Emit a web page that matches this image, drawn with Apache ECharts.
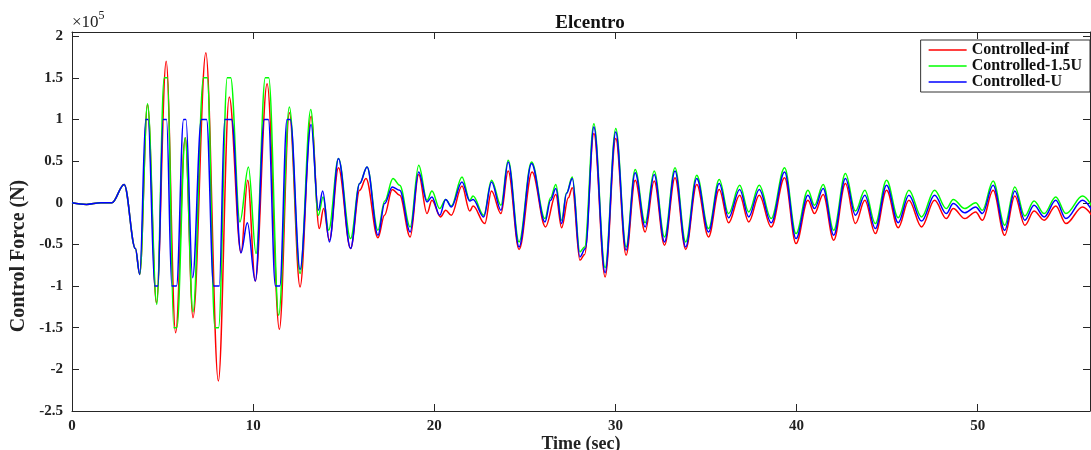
<!DOCTYPE html>
<html>
<head>
<meta charset="utf-8">
<script src="https://cdn.jsdelivr.net/npm/echarts@6/dist/echarts.min.js"></script>
<style>html,body{margin:0;padding:0;background:#fff}#c{width:1091px;height:450px}</style>
</head>
<body>
<div id="c"></div>
<script>
// Time (sec), Control force (x10^5 N) read at peaks / troughs / clip plateaus
const seriesNames = ['Controlled-inf', 'Controlled-1.5U', 'Controlled-U'];
const xTicks = [0, 10, 20, 30, 40, 50];
const yTicks = [-2.5, -2, -1.5, -1, -0.5, 0, 0.5, 1, 1.5, 2];

const redData = [
[0,0],[0.8,-0.02],[1.6,0],[2.2,0],[2.88,0.22],[3.5,-0.55],[3.74,-0.86],
[4.17,1.18],[4.66,-1.2],[5.2,1.70],[5.72,-1.56],[6.25,0.78],[6.68,-1.38],[7.39,1.80],[8.08,-2.14],[8.68,1.27],
[9.33,-0.60],[9.70,0.27],[10.12,-0.94],[10.77,1.43],[11.45,-1.52],[12.0,1.08],[12.59,-1.01],[13.20,1.04],
[13.65,-0.31],[13.89,-0.07],[14.21,-0.45],[14.71,0.42],[15.38,-0.55],[15.88,0.15],[16.23,0.29],[16.89,-0.42],
[17.25,-0.15],[17.68,0.16],[18.09,0.09],[18.67,-0.41],[19.14,0.34],[19.60,-0.13],[19.87,0.03],[20.34,-0.17],
[20.63,-0.09],[20.94,-0.15],[21.53,0.20],[21.96,-0.10],[22.14,-0.04],[22.79,-0.25],[23.16,0.14],[23.68,-0.13],
[24.08,0.38],[24.68,-0.56],[25.40,0.37],[26.14,-0.29],[26.71,0.10],[27.03,-0.30],[27.40,0.06],[27.62,0.18],
[28.04,-0.69],[28.30,-0.62],[28.81,0.83],[29.43,-0.89],[30.02,0.77],[30.59,-0.63],[31.09,0.27],[31.64,-0.35],
[32.14,0.26],[32.71,-0.51],[33.29,0.30],[33.88,-0.56],[34.49,0.22],[35.14,-0.41],[35.73,0.16],[36.25,-0.24],
[36.86,0.09],[37.36,-0.23],[37.94,0.09],[38.60,-0.29],[39.34,0.30],[39.97,-0.49],[40.63,0.03],[40.99,-0.13],
[41.47,0.10],[42.05,-0.45],[42.70,0.23],[43.25,-0.25],[43.77,0.03],[44.35,-0.37],[44.97,0.15],[45.61,-0.30],
[46.20,0.03],[46.90,-0.29],[47.62,0.03],[48.27,-0.19],[48.65,-0.07],[49.29,-0.19],[49.89,-0.11],[50.26,-0.21],
[50.85,0.15],[51.49,-0.39],[52.05,0.08],[52.60,-0.27],[53.11,-0.10],[53.67,-0.21],[54.31,-0.04],[54.87,-0.25],
[55.79,-0.05],[56.3,-0.15]
];

const greenData = [
[0,0],[0.8,-0.02],[1.6,0],[2.2,0],[2.88,0.22],[3.5,-0.55],[3.74,-0.86],
[4.17,1.19],[4.68,-1.22],[5.09,1.5],[5.27,1.5],[5.62,-1.5],[5.79,-1.5],[6.25,0.78],[6.68,-1.31],
[7.26,1.5],[7.47,1.5],[7.89,-1.5],[8.09,-1.5],[8.57,1.5],[8.76,1.5],[9.27,-0.23],[9.74,0.43],[10.16,-0.61],
[10.67,1.5],[10.86,1.5],[11.41,-1.35],[12.0,1.15],[12.59,-0.85],[13.18,1.12],[13.60,-0.15],[13.86,0.07],
[14.17,-0.33],[14.71,0.53],[15.38,-0.43],[15.88,0.23],[16.29,0.43],[16.89,-0.33],[17.26,0.02],[17.72,0.29],
[18.09,0.21],[18.67,-0.29],[19.14,0.45],[19.60,0.03],[19.87,0.14],[20.30,-0.07],[20.63,0.04],[20.94,-0.04],
[21.53,0.31],[21.96,0.03],[22.14,0.08],[22.73,-0.15],[23.16,0.27],[23.68,-0.03],[24.08,0.51],[24.68,-0.47],
[25.37,0.49],[26.11,-0.19],[26.42,0.06],[26.71,0.22],[27.03,-0.21],[27.30,0.12],[27.62,0.31],[28.04,-0.59],
[28.30,-0.53],[28.81,0.95],[29.43,-0.78],[30.02,0.89],[30.59,-0.53],[31.09,0.40],[31.64,-0.24],[32.14,0.38],
[32.71,-0.41],[33.29,0.42],[33.88,-0.47],[34.49,0.33],[35.14,-0.31],[35.73,0.28],[36.25,-0.13],[36.86,0.21],
[37.36,-0.11],[37.94,0.21],[38.60,-0.19],[39.34,0.42],[39.97,-0.37],[40.63,0.15],[40.99,-0.03],[41.47,0.22],
[42.05,-0.33],[42.70,0.35],[43.25,-0.10],[43.77,0.15],[44.35,-0.25],[44.97,0.27],[45.61,-0.18],[46.20,0.15],
[46.90,-0.17],[47.62,0.15],[48.27,-0.07],[48.65,0.04],[49.29,-0.07],[49.89,0.00],[50.26,-0.09],[50.85,0.26],
[51.49,-0.27],[52.05,0.19],[52.60,-0.16],[53.11,0.02],[53.67,-0.13],[54.31,0.07],[54.87,-0.13],[55.79,0.08],
[56.3,-0.04]
];

const blueData = [
[0,0],[0.8,-0.02],[1.6,0],[2.2,0],[2.88,0.22],[3.5,-0.55],[3.74,-0.86],
[4.07,1.0],[4.2,1.0],[4.57,-1.0],[4.74,-1.0],[5.03,1.0],[5.22,1.0],[5.51,-1.0],[5.77,-1.0],
[6.16,1.0],[6.29,1.0],[6.66,-0.9],[7.14,1.0],[7.43,1.0],[7.82,-1.0],[8.13,-1.0],[8.43,1.0],[8.81,1.0],
[9.33,-0.60],[9.68,-0.24],[10.12,-0.94],[10.62,1.0],[10.84,1.0],[11.23,-1.0],[11.47,-1.0],[11.87,1.0],[12.05,1.0],
[12.59,-0.80],[13.20,0.94],[13.60,-0.09],[13.84,0.14],[14.21,-0.47],[14.71,0.53],[15.38,-0.55],[15.88,0.23],
[16.29,0.43],[16.89,-0.39],[17.26,-0.01],[17.68,0.19],[18.09,0.15],[18.67,-0.35],[19.14,0.37],
[19.60,0.01],[19.87,0.07],[20.30,-0.15],[20.63,0.04],[20.94,-0.05],[21.53,0.25],[21.96,0.02],[22.14,0.04],
[22.73,-0.17],[23.16,0.25],[23.68,-0.09],[24.08,0.49],[24.68,-0.53],[25.37,0.47],[26.11,-0.23],[26.42,0.03],
[26.71,0.17],[27.03,-0.25],[27.30,0.11],[27.62,0.29],[28.04,-0.65],[28.34,-0.55],[28.81,0.91],[29.43,-0.84],
[30.02,0.85],[30.59,-0.57],[31.09,0.36],[31.64,-0.29],[32.14,0.34],[32.71,-0.47],[33.29,0.38],[33.88,-0.53],
[34.49,0.29],[35.14,-0.35],[35.73,0.23],[36.25,-0.18],[36.86,0.16],[37.36,-0.17],[37.94,0.16],[38.60,-0.24],
[39.34,0.37],[39.97,-0.43],[40.63,0.09],[40.99,-0.07],[41.47,0.17],[42.05,-0.39],[42.70,0.29],[43.25,-0.15],
[43.77,0.09],[44.35,-0.31],[44.97,0.21],[45.61,-0.24],[46.20,0.09],[46.90,-0.22],[47.62,0.09],[48.27,-0.13],
[48.65,-0.01],[49.29,-0.12],[49.89,-0.05],[50.26,-0.13],[50.85,0.21],[51.49,-0.33],[52.05,0.14],[52.60,-0.21],
[53.11,-0.03],[53.67,-0.17],[54.31,0.03],[54.87,-0.19],[55.79,0.03],[56.3,-0.09]
];

const FONT = '"Liberation Serif", "Times New Roman", serif';
const AX = '#262626';
const COLORS = ['#ff0000', '#00ff00', '#0000ff'];

const chart = echarts.init(document.getElementById('c'), null, {renderer: 'canvas'});

const baseX = {
  type: 'value', min: 0, max: 56.2, interval: 10,
  axisLine: {show: true, onZero: false, lineStyle: {color: AX, width: 1}},
  axisTick: {show: true, inside: true, length: 7, lineStyle: {color: AX}},
  splitLine: {show: false}
};
const baseY = {
  type: 'value', min: -2.5, max: 2.05, interval: 0.5,
  axisLine: {show: true, onZero: false, lineStyle: {color: AX, width: 1}},
  axisTick: {show: true, inside: true, length: 7, lineStyle: {color: AX}},
  splitLine: {show: false}
};

chart.setOption({
  animation: false,
  backgroundColor: '#fff',
  title: {
    text: 'Elcentro', left: 585, top: 9, textAlign: 'center',
    textStyle: {fontFamily: FONT, fontWeight: 'bold', fontSize: 19, color: '#111'}
  },
  legend: {
    data: seriesNames, orient: 'vertical', right: 1, top: 40,
    icon: 'path://M0,0H38V1.5H0Z',
    itemWidth: 38, itemHeight: 1.5, itemGap: 0,
    padding: [2, 8, 2, 8],
    borderColor: '#333', borderWidth: 1, backgroundColor: '#fff',
    textStyle: {fontFamily: FONT, fontWeight: 'bold', fontSize: 16, lineHeight: 14, color: '#111'}
  },
  grid: {left: 72, right: 1, top: 32, bottom: 39, containLabel: false, outerBoundsMode: 'none'},
  xAxis: [
    Object.assign({}, baseX, {
      position: 'bottom',
      axisLabel: {show: true, margin: 8, fontFamily: FONT, fontWeight: 'bold', fontSize: 15, color: '#222',
        formatter: v => xTicks.indexOf(v) >= 0 ? String(v) : ''},
      name: 'Time (sec)', nameLocation: 'middle', nameGap: 24, nameMoveOverlap: false,
      nameTextStyle: {fontFamily: FONT, fontWeight: 'bold', fontSize: 18, color: '#222', verticalAlign: 'top', lineHeight: 18}
    }),
    Object.assign({}, baseX, {position: 'top', axisLabel: {show: false}})
  ],
  yAxis: [
    Object.assign({}, baseY, {
      position: 'left',
      axisLabel: {show: true, margin: 9, showMaxLabel: false, fontFamily: FONT, fontWeight: 'bold', fontSize: 15, color: '#222',
        formatter: v => yTicks.indexOf(Math.round(v * 100) / 100) >= 0 ? String(Math.round(v * 100) / 100) : ''}
    }),
    Object.assign({}, baseY, {position: 'right', axisLabel: {show: false}})
  ],
  graphic: [
    {
      type: 'text', left: 72, top: 10,
      style: {
        text: '{a|×10}{s|5}', fill: '#222',
        rich: {
          a: {fontSize: 17, fontFamily: FONT, fill: '#222', verticalAlign: 'bottom'},
          s: {fontSize: 12, fontFamily: FONT, fill: '#222', verticalAlign: 'top', padding: [0, 0, 9, 0]}
        }
      }
    },
    {
      type: 'text', x: 19, y: 256, rotation: Math.PI / 2,
      style: {
        text: 'Control Force (N)', fill: '#222',
        font: 'bold 20px ' + FONT, align: 'center', verticalAlign: 'middle'
      }
    }
  ],
  series: seriesNames.map((n, i) => ({
    name: n, type: 'line', data: [redData, greenData, blueData][i],
    xAxisIndex: 0, yAxisIndex: 0, showSymbol: false, symbol: 'none',
    smooth: 0.36, smoothMonotone: 'x',
    color: COLORS[i],
    lineStyle: {width: 1.5, color: COLORS[i]}, itemStyle: {color: COLORS[i]},
    emphasis: {disabled: true}
  }))
});
</script>
</body>
</html>
